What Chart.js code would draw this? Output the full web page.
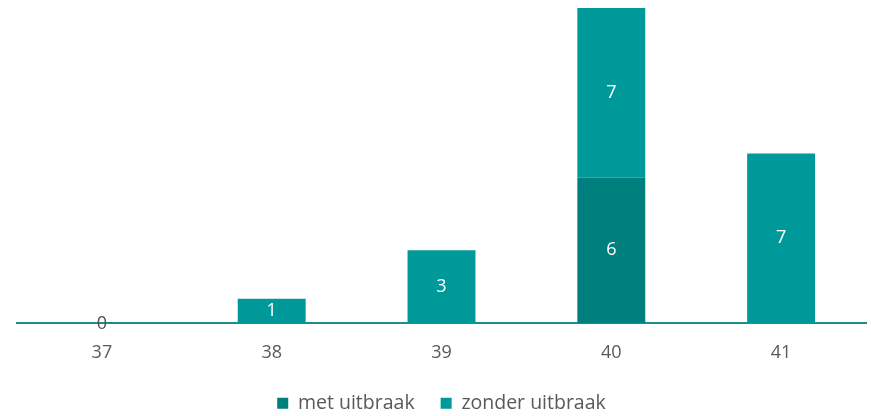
<!DOCTYPE html>
<html>
<head>
<meta charset="utf-8">
<script src="https://cdn.jsdelivr.net/npm/chart.js@4"></script>
<style>
  html, body { margin: 0; padding: 0; background: #fff; }
  #wrap { width: 871px; height: 416px; }
</style>
</head>
<body>
<div id="wrap"><canvas id="weekChart"></canvas></div>
<script>
// Data
const weeks = ['37', '38', '39', '40', '41'];
const metUitbraak = [0, null, null, 6, null];
const zonderUitbraak = [null, 1, 3, 7, 7];

const fontFamily = "'Open Sans', 'Noto Sans', sans-serif";

// Labels in the middle of each bar segment
const barLabels = {
  id: 'barLabels',
  afterDatasetsDraw(chart) {
    const c = chart.ctx;
    c.save();
    c.font = '18px ' + fontFamily;
    c.textAlign = 'center';
    c.textBaseline = 'middle';
    chart.data.datasets.forEach((ds, i) => {
      chart.getDatasetMeta(i).data.forEach((bar, j) => {
        const v = ds.data[j];
        if (v === null) return;
        c.fillStyle = v === 0 ? '#505050' : '#ffffff';
        const y = v === 0 ? bar.base + 1 : (bar.y + bar.base) / 2;
        c.fillText(String(v), bar.x, y);
      });
    });
    c.restore();
  }
};

const ctx = document.getElementById('weekChart').getContext('2d');
new Chart(ctx, {
  type: 'bar',
  data: {
    labels: weeks,
    datasets: [
      {
        label: 'met uitbraak',
        data: metUitbraak,
        backgroundColor: '#007F7F',
        categoryPercentage: 1,
        barPercentage: 0.4
      },
      {
        label: 'zonder uitbraak',
        data: zonderUitbraak,
        backgroundColor: '#009999',
        categoryPercentage: 1,
        barPercentage: 0.4
      }
    ]
  },
  options: {
    responsive: true,
    maintainAspectRatio: false,
    animation: false,
    layout: { padding: { left: 17, right: 5, top: 8, bottom: -7 } },
    plugins: {
      legend: {
        position: 'bottom',
        labels: {
          boxWidth: 11,
          boxHeight: 11,
          color: '#595959',
          font: { family: fontFamily, size: 19.5 },
          padding: 26
        }
      },
      tooltip: { enabled: false }
    },
    scales: {
      x: {
        stacked: true,
        grid: { display: false },
        border: { color: '#1F8C8C', width: 2 },
        ticks: {
          color: '#595959',
          font: { family: fontFamily, size: 18 },
          padding: 11
        },
        // keep the axis low; labels still hang below it
        afterFit(scale) { scale.height = 44.5; }
      },
      y: {
        stacked: true,
        display: false,
        min: 0,
        max: 13
      }
    }
  },
  plugins: [barLabels]
});
</script>
</body>
</html>
